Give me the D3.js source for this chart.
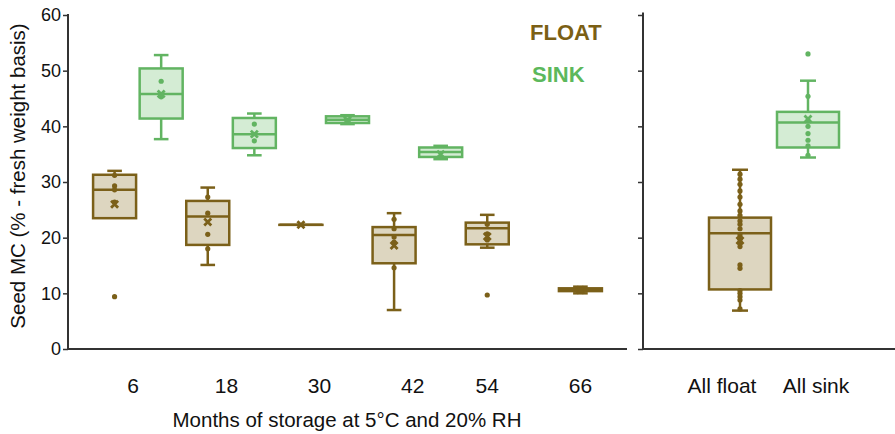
<!DOCTYPE html>
<html>
<head>
<meta charset="utf-8">
<script src="https://cdn.jsdelivr.net/npm/d3@7"></script>
<style>
  body { margin: 0; background: #fff; }
  svg { display: block; font-family: "Liberation Sans", Arial, Helvetica, sans-serif; }
</style>
</head>
<body>
<svg id="chart" width="895" height="434"></svg>
<script>
"use strict";

// months of storage (left panel)
var months = ["6", "18", "30", "42", "54", "66"];

// five-number summaries: [low whisker, q1, median, q3, high whisker]
var floatStats = [
    [23.5, 23.5, 28.6, 31.3, 32.0],
    [15.1, 18.7, 23.8, 26.6, 29.0],
    [22.3, 22.3, 22.3, 22.3, 22.3],
    [7.0, 15.4, 20.5, 21.9, 24.4],
    [18.2, 18.8, 21.7, 22.7, 24.1],
    [10.0, 10.4, 10.7, 10.9, 11.2]
];
var floatMeans = [26.0, 22.8, 22.3, 18.6, 20.2, 10.6];
var floatPoints = [
    [31.2, 29.3, 28.6, 26.4, 9.4],
    [27.3, 24.4, 20.6, 18.0],
    [],
    [23.3, 21.6, 20.1, 19.2, 14.6],
    [22.4, 20.7, 19.6, 9.7],
    []
];

var sinkStats = [
    [37.7, 41.4, 45.8, 50.4, 52.8],
    [34.8, 36.1, 38.6, 41.5, 42.3],
    [40.4, 40.6, 41.2, 41.8, 42.0],
    [34.1, 34.5, 35.4, 36.2, 36.5],
    null,
    null
];
var sinkMeans = [45.8, 38.6, 41.1, 35.0, null, null];
var sinkPoints = [
    [48.1, 45.3],
    [40.4, 37.4],
    [],
    [],
    [],
    []
];

// pooled groups (right panel)
var pooled = ["All float", "All sink"];
var pooledStats = [
    [6.9, 10.7, 20.8, 23.6, 32.2],
    [34.4, 36.2, 40.7, 42.6, 48.2]
];
var pooledMeans = [19.5, 41.3];
var pooledPoints = [
    [31.4, 30.5, 29.6, 28.4, 27.3, 26.0, 24.8, 24.0, 23.0, 22.4, 21.6, 20.5,
     19.7, 19.1, 18.4, 15.1, 14.5, 10.5, 10.0, 9.4, 8.8, 7.2],
    [53.0, 45.4, 41.0, 40.0, 38.7, 37.5, 36.5, 34.8]
];

var yTicks = [0, 10, 20, 30, 40, 50, 60];

var colors = {
    float: {stroke: "#7b6019", fill: "#ddd6c0"},
    sink: {stroke: "#62b462", fill: "#d4ecd4"}
};

var svg = d3.select("#chart");

var y = d3.scaleLinear().domain([0, 60]).range([349, 15]);

var xMonth = d3.scaleBand().domain(months).range([68, 627]);
var bw = xMonth.bandwidth();

var xPool = d3.scalePoint().domain(pooled).range([740, 808]);
var xPoolLabel = d3.scalePoint().domain(pooled).range([722, 816]);

var axisColor = "#333";

// y axes with minor ticks
var drawYAxis = function(xpos, top, labels) {
    var g = svg.append("g").attr("transform", "translate(" + xpos + ",0)");
    g.call(d3.axisLeft(y).tickValues(d3.range(0, 61, 2)).tickSize(3).tickFormat(""));
    g.call(d3.axisLeft(y).tickValues(yTicks).tickSize(5).tickFormat(labels ? d3.format("d") : ""));
    g.selectAll(".domain").remove();
    g.selectAll("line").attr("stroke", axisColor).attr("stroke-width", 1.5);
    g.selectAll("text").attr("font-size", 18).attr("fill", "#111").attr("x", -7);
    g.append("line").attr("x1", 0).attr("x2", 0).attr("y1", top).attr("y2", 350)
        .attr("stroke", axisColor).attr("stroke-width", 2);
};
drawYAxis(68, 14, true);
drawYAxis(643, 12.5, false);

// x axis lines
svg.append("line").attr("x1", 67).attr("x2", 627).attr("y1", 349).attr("y2", 349)
    .attr("stroke", axisColor).attr("stroke-width", 2);
svg.append("line").attr("x1", 642).attr("x2", 895).attr("y1", 349).attr("y2", 349)
    .attr("stroke", axisColor).attr("stroke-width", 2);

var drawBox = function(cx, w, s, mean, pts, c) {
    if (!s) return;
    var g = svg.append("g")
        .attr("stroke", c.stroke).attr("stroke-width", 2.5).attr("fill", "none");
    var cap = Math.min(16, w * 0.34);
    // whiskers
    g.append("line").attr("x1", cx).attr("x2", cx).attr("y1", y(s[0])).attr("y2", y(s[1]));
    g.append("line").attr("x1", cx).attr("x2", cx).attr("y1", y(s[3])).attr("y2", y(s[4]));
    if (s[0] < s[1]) {
        g.append("line").attr("x1", cx - cap / 2).attr("x2", cx + cap / 2)
            .attr("y1", y(s[0])).attr("y2", y(s[0]));
    }
    if (s[4] > s[3]) {
        g.append("line").attr("x1", cx - cap / 2).attr("x2", cx + cap / 2)
            .attr("y1", y(s[4])).attr("y2", y(s[4]));
    }
    // box
    g.append("rect")
        .attr("x", cx - w / 2).attr("width", w)
        .attr("y", y(s[3])).attr("height", Math.max(0.01, y(s[1]) - y(s[3])))
        .attr("fill", c.fill);
    g.append("line").attr("x1", cx - w / 2).attr("x2", cx + w / 2)
        .attr("y1", y(s[2])).attr("y2", y(s[2]));
    // points
    g.selectAll("circle").data(pts).enter().append("circle")
        .attr("cx", cx).attr("cy", function(d) { return y(d); })
        .attr("r", 2.6).attr("fill", c.stroke).attr("stroke", "none");
    // mean marker
    if (mean !== null) {
        var m = 3.5, my = y(mean);
        g.append("path")
            .attr("d", "M" + (cx - m) + "," + (my - m) + "L" + (cx + m) + "," + (my + m) +
                       "M" + (cx - m) + "," + (my + m) + "L" + (cx + m) + "," + (my - m))
            .attr("stroke-width", 2.8);
    }
};

months.forEach(function(m, i) {
    var x0 = xMonth(m);
    drawBox(x0 + bw / 2, 43, floatStats[i], floatMeans[i], floatPoints[i], colors.float);
    drawBox(x0 + bw, 43, sinkStats[i], sinkMeans[i], sinkPoints[i], colors.sink);
});

pooled.forEach(function(p, i) {
    drawBox(xPool(p), 62, pooledStats[i], pooledMeans[i], pooledPoints[i],
        i === 0 ? colors.float : colors.sink);
});

// x tick labels
svg.append("g").selectAll("text").data(months).enter().append("text")
    .attr("x", function(d, i) {
        return xMonth(d) + bw / 2 + (sinkStats[i] ? bw * 0.2 : 0);
    })
    .attr("y", 393)
    .attr("text-anchor", "middle").attr("font-size", 21).attr("fill", "#111")
    .text(function(d) { return d; });

svg.append("g").selectAll("text").data(pooled).enter().append("text")
    .attr("x", function(d) { return xPoolLabel(d); })
    .attr("y", 393)
    .attr("text-anchor", "middle").attr("font-size", 21).attr("fill", "#111")
    .text(function(d) { return d; });

// axis titles
svg.append("text")
    .attr("x", 347).attr("y", 427)
    .attr("text-anchor", "middle").attr("font-size", 20.5).attr("fill", "#111")
    .text("Months of storage at 5°C and 20% RH");

svg.append("text")
    .attr("transform", "translate(25,176) rotate(-90)")
    .attr("text-anchor", "middle").attr("font-size", 20.5).attr("fill", "#111")
    .text("Seed MC (% - fresh weight basis)");

// legend
svg.append("text")
    .attr("x", 530).attr("y", 40)
    .attr("font-size", 22).attr("font-weight", "bold").attr("fill", "#7b5f14")
    .text("FLOAT");
svg.append("text")
    .attr("x", 532).attr("y", 82)
    .attr("font-size", 22).attr("font-weight", "bold").attr("fill", "#5cb85c")
    .text("SINK");
</script>
</body>
</html>
